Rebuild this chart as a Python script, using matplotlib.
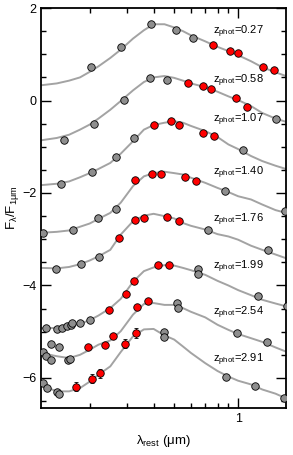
"""SED fits of galaxies at increasing photometric redshift."""

import matplotlib
matplotlib.use("Agg")
import matplotlib.pyplot as plt
import numpy as np
from matplotlib.ticker import FixedLocator, NullFormatter

plt.rcParams["font.family"] = ["Liberation Sans", "DejaVu Sans"]
plt.rcParams["mathtext.default"] = "regular"

# rest-frame wavelength grid of the template curves (micron)
lam_grid = [0.118, 0.14, 0.16, 0.18, 0.20, 0.22, 0.25, 0.28, 0.32, 0.36, 0.40, 0.45,
            0.50, 0.55, 0.60, 0.70, 0.80, 0.90, 1.0, 1.15, 1.3, 1.5, 1.68]

z_phot = ["0.27", "0.58", "1.07", "1.40", "1.76", "1.99", "2.54", "2.91"]
label_y = [1.49, 0.43, -0.41, -1.57, -2.58, -3.59, -4.60, -5.61]

# template curves (offset F_lambda / F_1um)
tmpl_027 = [0.33, 0.37, 0.43, 0.50, 0.62, 0.74, 0.92, 1.10, 1.34, 1.52, 1.65, 1.65,
            1.58, 1.50, 1.41, 1.28, 1.16, 1.07, 0.98, 0.85, 0.72, 0.61, 0.53]
tmpl_058 = [-0.86, -0.81, -0.74, -0.63, -0.52, -0.39, -0.20, -0.01, 0.22, 0.40, 0.50, 0.53,
            0.49, 0.43, 0.37, 0.29, 0.19, 0.09, 0.01, -0.12, -0.27, -0.39, -0.46]
tmpl_107 = [-1.83, -1.80, -1.75, -1.66, -1.57, -1.48, -1.35, -1.15, -0.88, -0.63, -0.53, -0.48,
            -0.45, -0.48, -0.55, -0.66, -0.79, -0.95, -1.05, -1.20, -1.31, -1.41, -1.48]
tmpl_140 = [-2.86, -2.84, -2.81, -2.73, -2.66, -2.56, -2.43, -2.21, -1.85, -1.64, -1.57, -1.54,
            -1.57, -1.60, -1.67, -1.78, -1.89, -1.98, -2.07, -2.14, -2.25, -2.37, -2.43]
tmpl_176 = [-3.62, -3.63, -3.60, -3.54, -3.46, -3.37, -3.23, -2.90, -2.61, -2.49, -2.45, -2.50,
            -2.55, -2.65, -2.71, -2.79, -2.89, -2.94, -3.01, -3.14, -3.23, -3.33, -3.41]
tmpl_199 = [-4.92, -4.92, -4.88, -4.83, -4.75, -4.65, -4.49, -4.29, -3.92, -3.69, -3.61, -3.56,
            -3.57, -3.62, -3.67, -3.77, -3.90, -4.00, -4.10, -4.21, -4.31, -4.39, -4.45]
tmpl_254 = [-5.46, -5.53, -5.57, -5.50, -5.39, -5.28, -5.19, -4.99, -4.63, -4.40, -4.38, -4.42,
            -4.42, -4.49, -4.57, -4.69, -4.85, -4.96, -5.05, -5.14, -5.22, -5.34, -5.43]
tmpl_291 = [-6.16, -6.29, -6.29, -6.22, -6.08, -5.93, -5.75, -5.44, -5.10, -4.95, -4.94, -5.08,
            -5.17, -5.32, -5.46, -5.68, -5.85, -5.97, -6.06, -6.14, -6.25, -6.34, -6.44]
templates = [tmpl_027, tmpl_058, tmpl_107, tmpl_140, tmpl_176, tmpl_199, tmpl_254, tmpl_291]

# photometry: gray = other bands, red = bands used for the fit
gray_lam = [
    [0.202, 0.280, 0.390, 0.508, 0.616],
    [0.151, 0.209, 0.290, 0.383, 0.462, 1.51],
    [0.146, 0.204, 0.267, 0.324, 1.059],
    [0.120, 0.167, 0.220, 0.266, 0.868, 1.66],
    [0.139, 0.182, 0.221, 0.724, 1.39],
    [0.125, 0.140, 0.148, 0.156, 0.163, 0.166, 0.180, 0.200, 0.645, 0.650, 1.247, 1.70],
    [0.121, 0.124, 0.131, 0.132, 0.144, 0.158, 0.161, 0.515, 0.520, 0.986, 1.366],
    [0.121, 0.126, 0.140, 0.144, 0.448, 0.450, 0.878, 1.20, 1.65],
]
gray_flux = [
    [0.72, 1.15, 1.66, 1.52, 1.36],
    [-0.85, -0.50, 0.02, 0.48, 0.44, -0.40],
    [-1.80, -1.54, -1.23, -0.81, -1.08],
    [-2.86, -2.79, -2.55, -2.34, -1.95, -2.40],
    [-3.64, -3.53, -3.39, -2.81, -3.24],
    [-4.91, -4.94, -4.91, -4.87, -4.85, -4.81, -4.81, -4.74, -3.64, -3.75, -4.22, -4.44],
    [-5.43, -5.52, -5.26, -5.61, -5.33, -5.62, -5.58, -4.37, -4.49, -5.03, -5.22],
    [-6.12, -6.21, -6.31, -6.35, -5.01, -5.12, -5.97, -6.17, -6.44],
]
red_lam = [
    [0.765, 0.917, 1.003, 1.31, 1.48],
    [0.579, 0.681, 0.746, 0.978, 1.106],
    [0.403, 0.481, 0.527, 0.681, 0.770],
    [0.328, 0.394, 0.432, 0.562, 0.634],
    [0.275, 0.328, 0.359, 0.461, 0.527],
    [0.246, 0.295, 0.323, 0.421, 0.474],
    [0.197, 0.236, 0.258, 0.335, 0.376],
    [0.173, 0.206, 0.224, 0.294, 0.331],
]
red_flux = [
    [1.21, 1.07, 1.02, 0.72, 0.66],
    [0.37, 0.31, 0.26, 0.06, -0.14],
    [-0.52, -0.45, -0.53, -0.70, -0.77],
    [-1.72, -1.58, -1.58, -1.65, -1.73],
    [-2.97, -2.59, -2.53, -2.52, -2.60],
    [-4.53, -4.18, -3.90, -3.56, -3.55],
    [-5.32, -5.28, -5.09, -4.47, -4.33],
    [-6.19, -6.02, -5.90, -5.26, -5.03],
]
red_err_291 = [0.10, 0.10, 0.10, 0.10, 0.10]

fig = plt.figure(figsize=(2.93, 4.55), dpi=100)
ax = fig.add_axes([0.140, 0.1033, 0.836, 0.879])

for i in range(len(z_phot)):
    ax.plot(lam_grid, templates[i], color="#a3a3a3", lw=1.4, zorder=1)
    ax.plot(gray_lam[i], gray_flux[i], "o", ms=5.4, mfc="#8e8e8e", mec="black",
            mew=0.6, zorder=3)
    if i == len(z_phot) - 1:
        ax.errorbar(red_lam[i], red_flux[i], yerr=red_err_291, fmt="o", ms=5.4,
                    mfc="#ff0000", mec="black", mew=0.6, ecolor="black",
                    elinewidth=0.6, capsize=1.2, capthick=0.6, zorder=4)
    else:
        ax.plot(red_lam[i], red_flux[i], "o", ms=5.4, mfc="#ff0000", mec="black",
                mew=0.6, zorder=4)
    ax.text(0.76, label_y[i], r"z$_{phot}$=" + z_phot[i], fontsize=8,
            ha="left", va="center", zorder=5)

ax.set_xscale("log")
ax.set_xlim(0.118, 1.68)
ax.set_ylim(-6.65, 2.0)

ax.xaxis.set_major_locator(FixedLocator([1.0]))
ax.xaxis.set_minor_locator(FixedLocator([0.2, 0.3, 0.4, 0.5, 0.6, 0.7, 0.8, 0.9]))
ax.xaxis.set_minor_formatter(NullFormatter())
ax.set_xticklabels(["1"])
ax.yaxis.set_major_locator(FixedLocator([-6, -4, -2, 0, 2]))
ax.yaxis.set_minor_locator(FixedLocator(np.arange(-6.5, 2.0, 0.5)))

ax.tick_params(which="both", direction="in", top=True, right=True, labelsize=9,
               width=1.0, colors="black")
ax.tick_params(which="major", length=7)
ax.tick_params(which="minor", length=3.5)
for side in ax.spines.values():
    side.set_linewidth(1.3)

ax.set_xlabel(r"$\lambda_{rest}$ ($\mu$m)", fontsize=9.5, labelpad=6)
ax.set_ylabel(r"F$_{\lambda}$/F$_{1\mu m}$", fontsize=9.5, labelpad=1)

fig.savefig("out.png", dpi=100)
